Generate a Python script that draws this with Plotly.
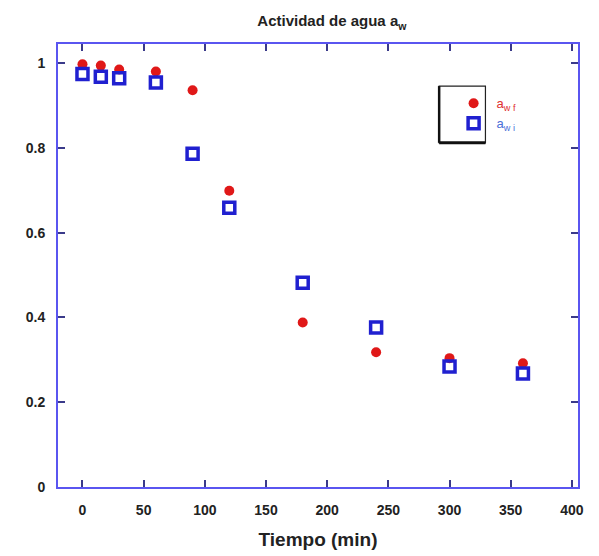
import plotly.graph_objects as go

tiempo = [0, 15, 30, 60, 90, 120, 180, 240, 300, 360]
aw_f = [0.997, 0.994, 0.985, 0.980, 0.936, 0.699, 0.388, 0.318, 0.304, 0.292]
aw_i = [0.974, 0.968, 0.964, 0.954, 0.786, 0.659, 0.482, 0.376, 0.284, 0.268]
x_ticks = [0, 50, 100, 150, 200, 250, 300, 350, 400]
y_ticks = [0, 0.2, 0.4, 0.6, 0.8, 1]

frame = "#5a55f0"
font = "Liberation Sans, Arial, sans-serif"

fig = go.Figure()
fig.add_trace(go.Scatter(
    x=tiempo, y=aw_f, mode="markers",
    name='<span style="color:#e03030">a<sub>w f</sub></span>',
    marker=dict(symbol="circle", size=10, color="#e01818"),
))
fig.add_trace(go.Scatter(
    x=tiempo, y=aw_i, mode="markers",
    name='<span style="color:#4a70d8">a<sub>w i</sub></span>',
    marker=dict(symbol="square-open", size=11, color="#2020d0",
                line=dict(width=3.5, color="#2020d0")),
))

fig.update_layout(
    width=591, height=548,
    paper_bgcolor="white", plot_bgcolor="white",
    margin=dict(l=50, r=21, t=36, b=69),
    title=dict(text="<b>Actividad de agua a<sub>w</sub></b>", x=0.548, xanchor="center",
               y=0.976, yanchor="middle",
               font=dict(family=font, size=15, color="#222")),
    showlegend=True,
    legend=dict(x=0.755, y=0.90, xanchor="left", yanchor="top",
                bgcolor="rgba(0,0,0,0)", borderwidth=0,
                font=dict(family=font, size=13, color="#555"),
                itemwidth=36, tracegroupgap=0),
    font=dict(family=font),
)
fig.update_xaxes(
    range=[-20, 405], tickvals=x_ticks, ticks="inside", ticklen=7, tickwidth=1.5,
    tickcolor="#3a3a8a", showgrid=False, zeroline=False,
    showline=True, linecolor=frame, linewidth=2, mirror="ticks",
    tickfont=dict(family=font, size=14, color="#222", weight="bold"),
    title=dict(text="<b>Tiempo (min)</b>", font=dict(family=font, size=19, color="#222"), standoff=16),
    ticklabelstandoff=9, automargin=False,
)
fig.update_yaxes(
    range=[0, 1.045], tickvals=y_ticks, ticks="inside", ticklen=7, tickwidth=1.5,
    tickcolor="#3a3a8a", showgrid=False, zeroline=False,
    showline=True, linecolor=frame, linewidth=2, mirror="ticks",
    tickfont=dict(family=font, size=14, color="#222", weight="bold"),
    ticklabelstandoff=8, automargin=False,
)

# legend box with shadow-like thick left/bottom edges
fig.add_shape(type="rect", xref="paper", yref="paper",
              x0=0.733, x1=0.822, y0=0.777, y1=0.905,
              line=dict(color="#222", width=1.2), fillcolor="rgba(0,0,0,0)")
fig.add_shape(type="line", xref="paper", yref="paper",
              x0=0.733, x1=0.822, y0=0.777, y1=0.777,
              line=dict(color="#111", width=3))
fig.add_shape(type="line", xref="paper", yref="paper",
              x0=0.733, x1=0.733, y0=0.777, y1=0.905,
              line=dict(color="#111", width=2.5))

fig.write_html("out.html")
